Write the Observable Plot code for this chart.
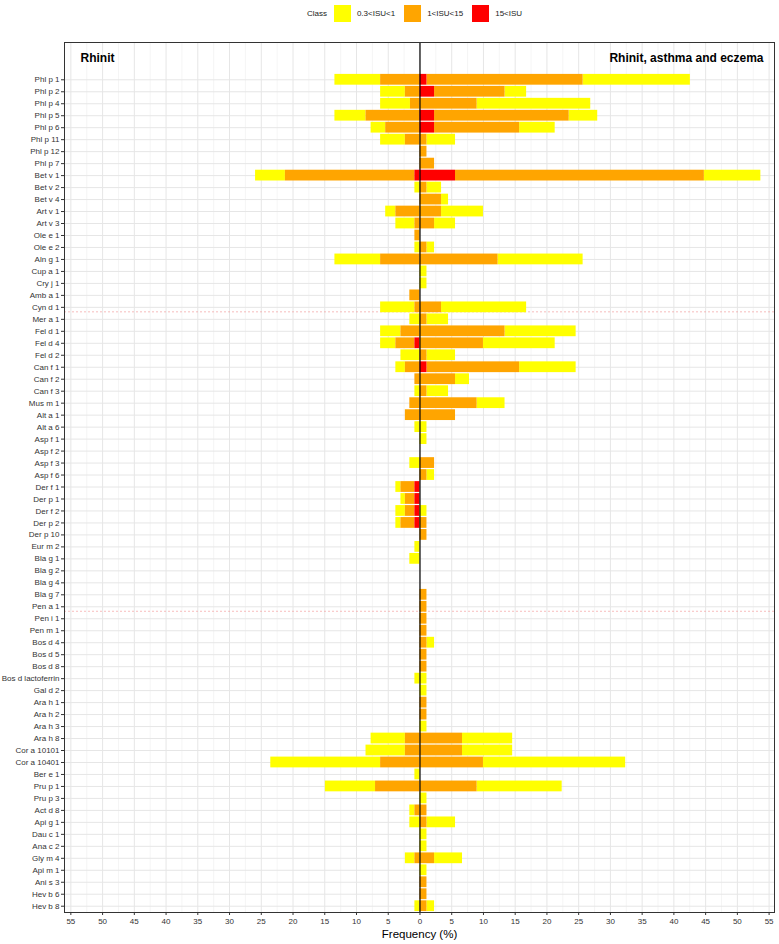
<!DOCTYPE html>
<html><head><meta charset="utf-8">
<script src="https://cdn.jsdelivr.net/npm/d3@7"></script>
<script src="https://cdn.jsdelivr.net/npm/@observablehq/plot@0.6"></script>
<style>
html,body{margin:0;padding:0;background:#fff;}
body{font-family:"Liberation Sans",Arial,sans-serif;width:779px;}
#legend{height:30px;box-sizing:border-box;padding-left:64px;padding-right:5px;display:flex;justify-content:center;align-items:center;font-size:8px;color:#1a1a1a;padding-bottom:4px;}
#legend .sw{width:17px;height:17px;display:inline-block;}
#legend .title{margin-right:7px;}
#legend .lab{margin-left:6px;margin-right:9px;}
#chart svg{display:block;}
</style></head><body>
<div id="legend"></div>
<div id="chart"></div>
<script>
const allergens = [
  "Phl p 1","Phl p 2","Phl p 4","Phl p 5","Phl p 6","Phl p 11","Phl p 12","Phl p 7","Bet v 1","Bet v 2",
  "Bet v 4","Art v 1","Art v 3","Ole e 1","Ole e 2","Aln g 1","Cup a 1","Cry j 1","Amb a 1","Cyn d 1",
  "Mer a 1","Fel d 1","Fel d 4","Fel d 2","Can f 1","Can f 2","Can f 3","Mus m 1","Alt a 1","Alt a 6",
  "Asp f 1","Asp f 2","Asp f 3","Asp f 6","Der f 1","Der p 1","Der f 2","Der p 2","Der p 10","Eur m 2",
  "Bla g 1","Bla g 2","Bla g 4","Bla g 7","Pen a 1","Pen i 1","Pen m 1","Bos d 4","Bos d 5","Bos d 8",
  "Bos d lactoferrin","Gal d 2","Ara h 1","Ara h 2","Ara h 3","Ara h 8","Cor a 10101","Cor a 10401","Ber e 1","Pru p 1",
  "Pru p 3","Act d 8","Api g 1","Dau c 1","Ana c 2","Gly m 4","Api m 1","Ani s 3","Hev b 6","Hev b 8"
];

// Rhinit (left side), frequency % per class
const leftRed = [
  0,0,0,0,0,0,0,0,0.8,0,
  0,0,0,0,0,0,0,0,0,0,
  0,0,0.8,0,0,0,0,0,0,0,
  0,0,0,0,0.8,0.8,0.8,0.8,0,0,
  0,0,0,0,0,0,0,0,0,0,
  0,0,0,0,0,0,0,0,0,0,
  0,0,0,0,0,0,0,0,0,0
];
const leftOrange = [
  6.2,2.3,1.5,8.5,5.4,2.3,0,0,20.4,0,
  0,3.8,0.8,0.8,0,6.2,0,0,1.6,0.8,
  0,3.0,3.0,0,2.3,0.8,0,1.6,2.3,0,
  0,0,0,0,2.2,1.5,1.5,2.2,0,0,
  0,0,0,0,0,0,0,0,0,0,
  0,0,0,0,0,2.3,2.3,6.2,0,7.0,
  0,0.8,0,0,0,0.8,0,0,0,0
];
const leftYellow = [
  7.2,3.9,4.7,4.9,2.3,3.9,0,0,4.7,0.8,
  0,1.6,3.0,0,0.8,7.2,0,0,0,5.4,
  1.6,3.2,2.4,3.0,1.5,0,0.8,0,0,0.8,
  0,0,1.6,0,0.8,0.7,1.5,0.8,0,0.8,
  1.6,0,0,0,0,0,0,0,0,0,
  0.8,0,0,0,0,5.4,6.2,17.3,0.8,7.9,
  0,0.8,1.6,0,0,1.5,0,0,0,0.8
];

// Rhinit, asthma and eczema (right side), frequency % per class
const rightRed = [
  1.1,2.3,0,2.3,2.3,0,0,0,5.6,0,
  0,0,0,0,0,0,0,0,0,0,
  0,0,0,0,1.1,0,0,0,0,0,
  0,0,0,0,0,0,0,0,0,0,
  0,0,0,0,0,0,0,0,0,0,
  0,0,0,0,0,0,0,0,0,0,
  0,0,0,0,0,0,0,0,0,0
];
const rightOrange = [
  24.6,11.1,9.0,21.2,13.4,1.1,1.1,2.3,39.2,1.1,
  3.4,3.4,2.3,0,1.1,12.3,0,0,0,3.4,
  1.1,13.4,10.0,1.1,14.6,5.6,1.1,9.0,5.6,0,
  0,0,2.3,1.1,0,0,0,1.1,1.1,0,
  0,0,0,1.1,1.1,1.1,1.1,1.1,1.1,1.1,
  0,0,1.1,1.1,0,6.7,6.7,10.0,0,9.0,
  0,1.1,1.1,0,0,2.3,0,1.1,1.1,1.1
];
const rightYellow = [
  16.9,3.4,17.9,4.5,5.6,4.5,0,0,8.9,2.3,
  1.1,6.6,3.3,0,1.2,13.4,1.1,1.1,0,13.4,
  3.4,11.2,11.3,4.5,8.9,2.2,3.4,4.4,0,1.1,
  1.1,0,0,1.2,0,0,1.1,0,0,0,
  0,0,0,0,0,0,0,1.2,0,0,
  1.1,1.1,0,0,1.1,7.9,7.9,22.4,0,13.4,
  1.1,0,4.5,1.1,1.1,4.4,1.1,0,0,1.2
];

const classes = ["0.3<ISU<1", "1<ISU<15", "15<ISU"];
const classColors = ["#FFFF00", "#FFA500", "#FF0000"];
const stackOrder = ["15<ISU", "1<ISU<15", "0.3<ISU<1"];
const panelLabels = ["Rhinit", "Rhinit, asthma and eczema"];
const xTicks = d3.range(-55, 56, 5);
const xMinor = d3.range(-52.5, 55, 5);
const separatorsAfter = ["Cyn d 1", "Pen a 1"];

// tidy table
const rows = [];
const series = [
  [leftYellow, classes[0], -1], [leftOrange, classes[1], -1], [leftRed, classes[2], -1],
  [rightYellow, classes[0], 1], [rightOrange, classes[1], 1], [rightRed, classes[2], 1]
];
allergens.forEach((a, i) => {
  for (const [arr, cls, sign] of series) {
    if (arr[i] > 0) rows.push({allergen: a, cls, value: sign * arr[i]});
  }
});

// legend
const legend = document.getElementById("legend");
legend.innerHTML = `<span class="title">Class</span>` + classes.map((c, i) =>
  `<span class="sw" style="background:${classColors[i]}"></span><span class="lab">${c.replace(/</g, "&lt;")}</span>`).join("");

const W = 779, H = 914;
const mTop = 12, mBottom = 32, mLeft = 64, mRight = 5;
const yRange = [43.3, 881.7];
const step = (yRange[1] - yRange[0]) / allergens.length;

const chart = Plot.plot({
  width: W, height: H,
  marginTop: mTop, marginBottom: mBottom, marginLeft: mLeft, marginRight: mRight,
  style: {fontFamily: "'Liberation Sans', Arial, sans-serif", background: "#fff"},
  x: {domain: [-56, 55.85]},
  y: {type: "band", domain: allergens, range: yRange, paddingInner: 0.1, paddingOuter: 0.05},
  color: {domain: classes, range: classColors},
  marks: [
    Plot.ruleX(xMinor, {stroke: "#f2f2f2", strokeWidth: 0.8}),
    Plot.ruleX(xTicks, {stroke: "#e6e6e6", strokeWidth: 1}),
    Plot.gridY({stroke: "#e6e6e6", strokeOpacity: 1, strokeWidth: 1}),
    Plot.gridY(separatorsAfter, {stroke: "#f4a0a0", strokeOpacity: 0.7, strokeDasharray: "2,2", dy: step / 2 - 1.5}),
    Plot.barX(rows, Plot.stackX({x: "value", y: "allergen", fill: "cls", z: "cls", order: stackOrder})),
    Plot.ruleX([0], {stroke: "#000", strokeWidth: 1.2}),
    Plot.frame({stroke: "#333", strokeWidth: 1}),
    Plot.axisY({tickSize: 3, tickPadding: 2, fontSize: 8, color: "#333", label: null}),
    Plot.axisX({ticks: xTicks, tickFormat: d => Math.abs(d), tickSize: 3, tickPadding: 3, fontSize: 8, color: "#333", label: null}),
    Plot.text([panelLabels[0]], {frameAnchor: "top-left", textAnchor: "start", dx: 16, dy: 11, fontWeight: "bold", fontSize: 12, fill: "#000"}),
    Plot.text([panelLabels[1]], {frameAnchor: "top-right", textAnchor: "end", dx: -11, dy: 11, fontWeight: "bold", fontSize: 12, fill: "#000"}),
    Plot.text(["Frequency (%)"], {frameAnchor: "bottom", dy: 25, fontSize: 11.5, fill: "#000"})
  ]
});
document.getElementById("chart").appendChild(chart);
</script>
</body></html>
